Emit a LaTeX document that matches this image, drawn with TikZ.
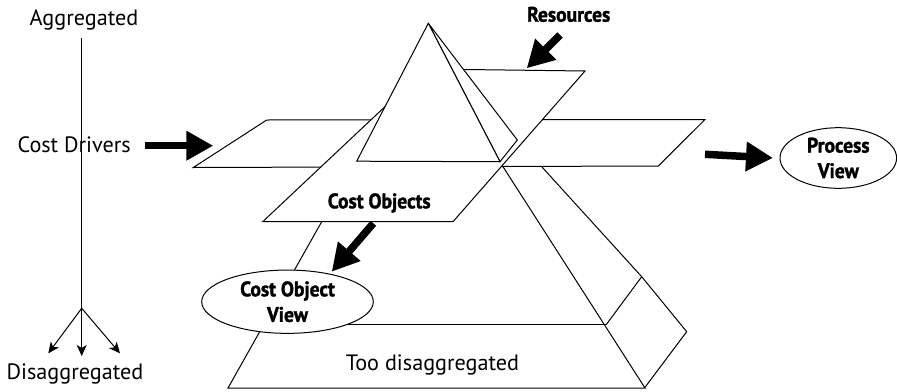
\documentclass[tikz,border=0pt]{standalone}
\usepackage{fontspec}
\setmainfont{PT Sans}
\newfontfamily\labelfont[FakeStretch=0.93,FakeBold=1.5]{PT Sans Bold}
\usetikzlibrary{shapes,arrows.meta,positioning}

\begin{document}
\begin{tikzpicture}[x=1pt,y=-1pt,line width=1pt,
    plane/.style={draw,fill=white,line join=miter},
    blockarrow/.style={line width=7.5pt,-{Triangle[length=27pt,width=28pt]}},
    axisarrow/.style={-{Stealth[length=11pt,width=10pt,inset=3pt]}},
    view/.style={ellipse,draw,fill=white,inner sep=-2pt,align=center,
        font=\labelfont\fontsize{21}{25.5}\selectfont},
    boldlabel/.style={anchor=base,inner sep=0pt,font=\labelfont\fontsize{21}{24}\selectfont},
    plainlabel/.style={anchor=base,inner sep=0pt,font=\fontsize{22.2}{26}\selectfont}]
\useasboundingbox (0,0) rectangle (897,391);

    % Aggregation axis
    \node[plainlabel] (agg) at (84,25) {Aggregated};
    \node[plainlabel] (disagg) at (75,379.3) {Disaggregated};
    \coordinate (axtop) at (81.7,38.3);
    \coordinate (axfork) at (81.7,308.3);
    \draw (axtop) -- (axfork);
    \draw[axisarrow] (axfork) -- (48.3,353.3);
    \draw[axisarrow] (axfork) -- (81.7,356);
    \draw[axisarrow] (axfork) -- (120,353.3);

    % Side face of the pyramid
    \draw (541.7,166.7) -- (641.7,276.7) -- (686.7,331.7) -- (645,387.3);
    \draw (641.7,276.7) -- (606.7,324);

    % Front face of the pyramid
    \draw (321.7,221.7) -- (228,388) -- (645,388) -- (503,166.7);
    \draw (264,324) -- (606.7,324);

    % Cost driver plane
    \draw[plane] (193.3,167.5) -- (266.7,120) -- (705,119.5) -- (658.3,166) -- cycle;

    % Cost object / resource plane
    \draw[plane] (262.7,221.7) -- (453,221.7) -- (585,71) -- (425,69) -- cycle;

    % Top of the pyramid
    \draw[plane] (428.3,23.3) -- (517.3,140) -- (500,161.7) -- cycle;
    \draw[plane] (428.3,23.3) -- (356.7,161.2) -- (500,161.7) -- cycle;

    % Labels
    \node[plainlabel] (drivers) at (74.2,152.7) {Cost Drivers};
    \node[boldlabel] (resources) at (568.7,21.7) {Resources};
    \node[boldlabel] (objects) at (379.2,208.3) {Cost Objects};
    \node[plainlabel] (toodis) at (432.5,370) {Too disaggregated};

    % Views
    \node[view,minimum width=171.6pt,minimum height=63.3pt] (cov) at (287.5,301.7) {Cost Object\\View};
    \node[view,minimum width=116.6pt,minimum height=60.6pt] (pv) at (838.3,158) {Process\\View};

    % Block arrows
    \draw[blockarrow] (145,145.7) -- (213.3,145.7);
    \draw[blockarrow] (705,154.3) -- ([xshift=-6.5pt]pv.west);
    \draw[blockarrow] (560,35) -- (526.7,68.3);
    \draw[blockarrow] (373.3,223.3) -- (331.7,271.7);
\end{tikzpicture}
\end{document}
